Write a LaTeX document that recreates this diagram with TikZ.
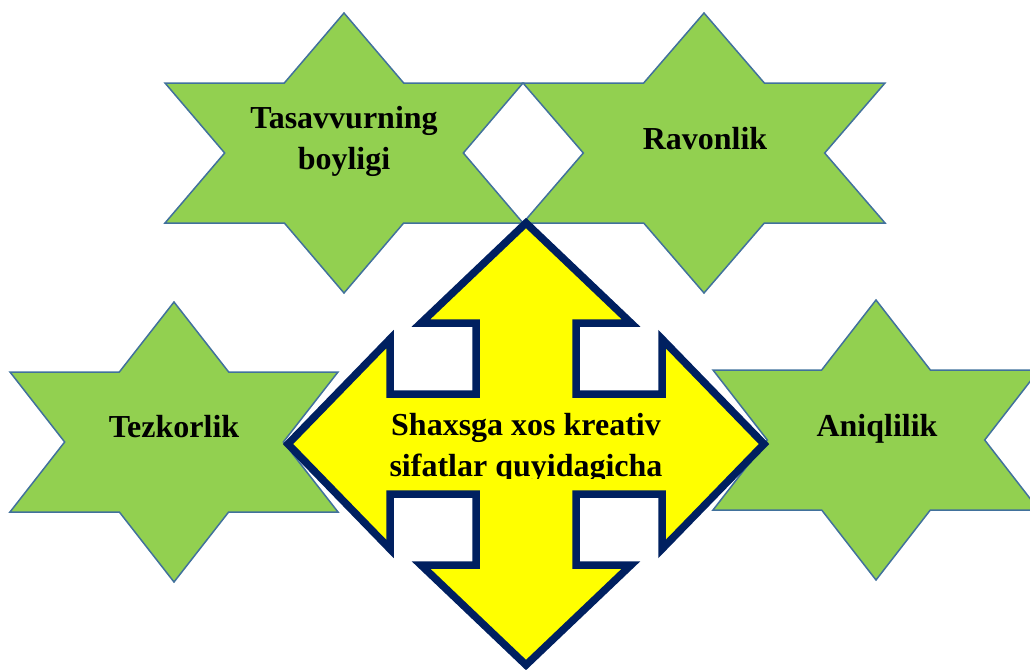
\documentclass[tikz,border=0pt]{standalone}
\usepackage{fontspec}
\setmainfont{Liberation Serif}
\usepackage{tikz}
\usetikzlibrary{positioning}

\definecolor{stargreen}{HTML}{92D050}
\definecolor{starblue}{HTML}{41719C}
\definecolor{arrownavy}{HTML}{002060}
\definecolor{arrowyellow}{RGB}{255,255,0}

\begin{document}
\begin{tikzpicture}[x=1pt, y=-1pt,
    starshape/.style = {fill=stargreen, draw=starblue, line width=1.5pt, line join=miter},
    quadarrow/.style = {fill=arrowyellow, draw=arrownavy, line width=7.5pt, line join=miter},
    startext/.style = {font=\fontsize{32}{41}\selectfont\bfseries, align=center, anchor=base, inner sep=0pt, text=black}]

      \useasboundingbox (0,0) rectangle (1030,669);
      \clip (0,0) rectangle (1030,669);

      % six pointed stars: centre x / centre y / half width
      \foreach \cx/\cy/\w [count=\i] in {344/153/179, 704/153/181, 174/442/164, 876/440/163}{
        \coordinate (star\i) at (\cx,\cy);
        \draw[starshape] (\cx,\cy-140) -- (\cx+\w/3,\cy-70) -- (\cx+\w,\cy-70) -- (\cx+2*\w/3,\cy)
          -- (\cx+\w,\cy+70) -- (\cx+\w/3,\cy+70) -- (\cx,\cy+140) -- (\cx-\w/3,\cy+70)
          -- (\cx-\w,\cy+70) -- (\cx-2*\w/3,\cy) -- (\cx-\w,\cy-70) -- (\cx-\w/3,\cy-70) -- cycle;
      }

      % four way arrow in the middle
      \coordinate (mid) at (526,444);
      \draw[quadarrow, shift={(mid)}] (0,-221) -- (105,-121) -- (50,-121) -- (50,-50) -- (136,-50)
        -- (136,-105) -- (238,0) -- (136,105) -- (136,50) -- (50,50) -- (50,121) -- (105,121)
        -- (0,221) -- (-105,121) -- (-50,121) -- (-50,50) -- (-136,50) -- (-136,105) -- (-238,0)
        -- (-136,-105) -- (-136,-50) -- (-50,-50) -- (-50,-121) -- (-105,-121) -- cycle;

      % base of a two line node is the baseline of its last line
      \node[startext] (tasavvur) at (344,169) {Tasavvurning\\boyligi};
      \node[startext] (ravon) at (705,149) {Ravonlik};
      \node[startext] (tezkor) at (174,437) {Tezkorlik};
      \node[startext] (aniq) at (877,436) {Aniqlilik};

      \begin{scope}
        \clip (380,395) rectangle (680,478);
        \node[startext] (kreativ) at (526,476) {Shaxsga xos kreativ\\sifatlar quyidagicha};
      \end{scope}

\end{tikzpicture}
\end{document}
